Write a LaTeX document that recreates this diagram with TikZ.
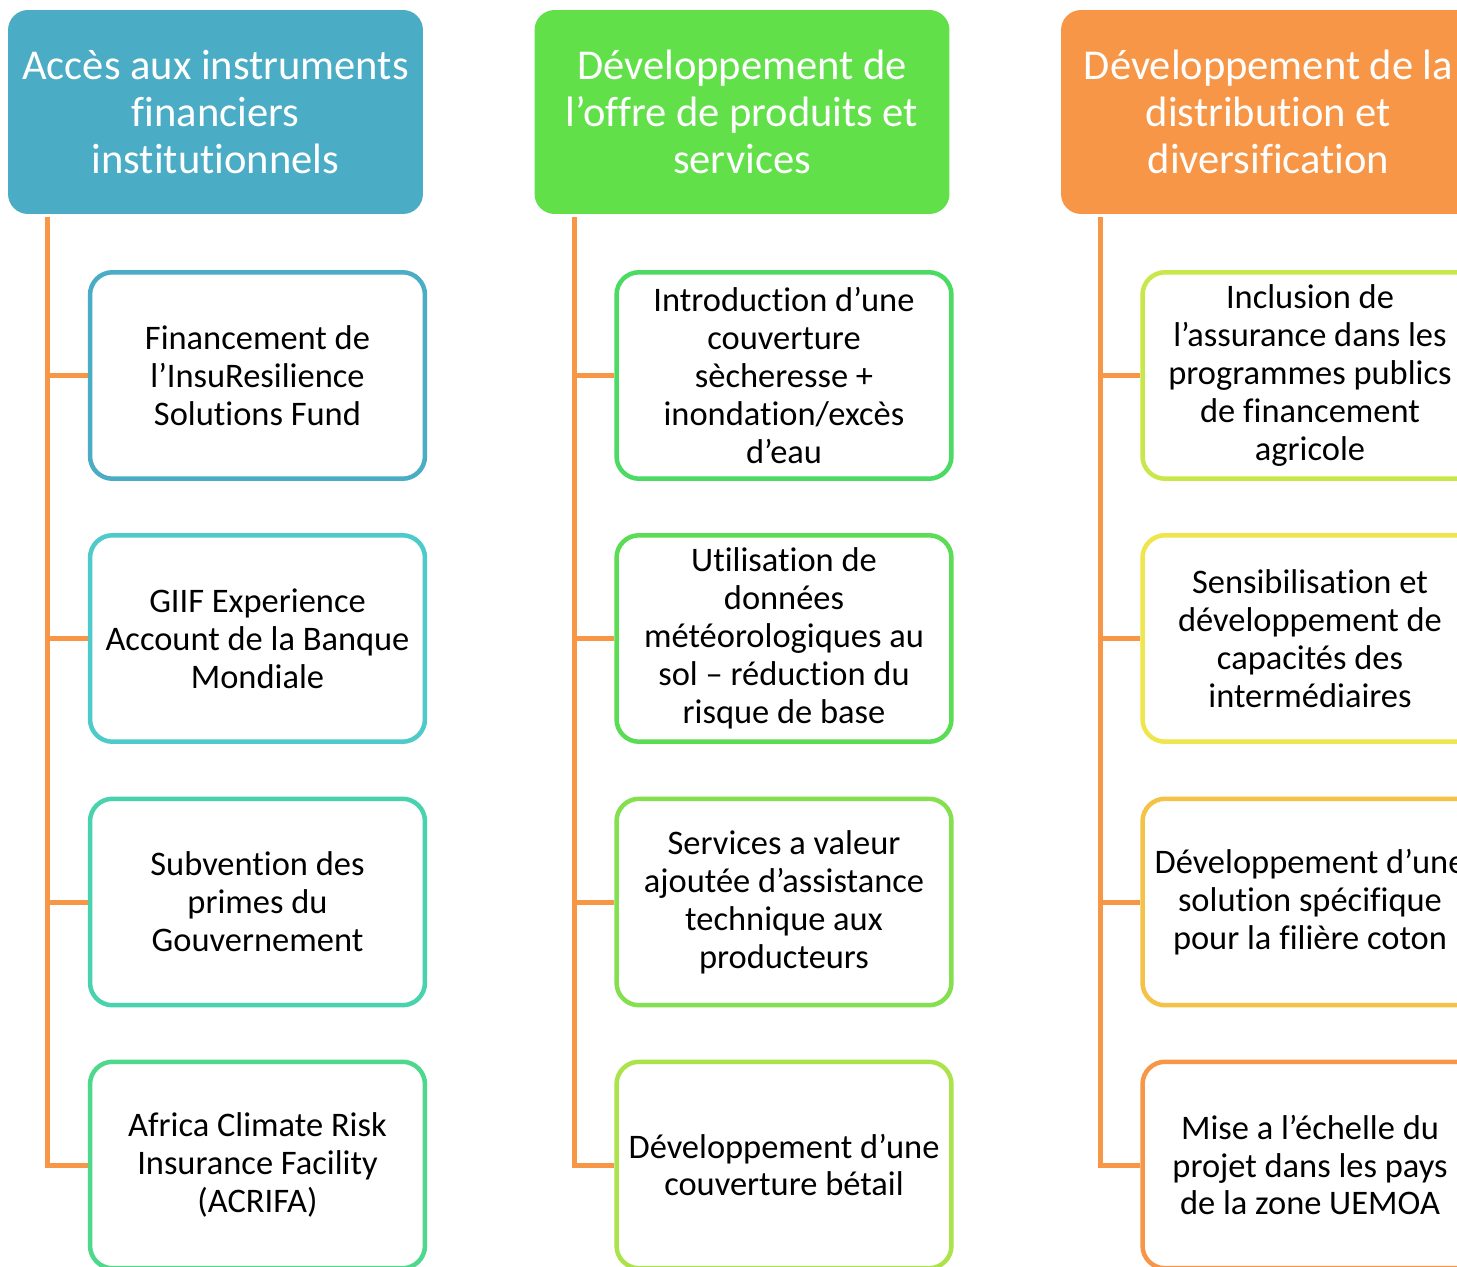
\documentclass[tikz,border=0pt]{standalone}
\usepackage{fontspec}
\setmainfont[Ligatures=NoCommon]{Carlito}
\usetikzlibrary{backgrounds}
\definecolor{hblue}{HTML}{4BACC6}
\definecolor{hgreen}{HTML}{62E04A}
\definecolor{horange}{HTML}{F79646}
\definecolor{linkc}{HTML}{F79646}
\definecolor{ca}{HTML}{4BACC6}
\definecolor{cb}{HTML}{4DCACA}
\definecolor{cc}{HTML}{48D2AE}
\definecolor{cd}{HTML}{4ED88C}
\definecolor{ce}{HTML}{4CDB62}
\definecolor{cf}{HTML}{5ADD55}
\definecolor{cg}{HTML}{84E04E}
\definecolor{ch}{HTML}{ACE34A}
\definecolor{ci}{HTML}{C8E84A}
\definecolor{cj}{HTML}{EEE64C}
\definecolor{ck}{HTML}{F4C246}
\definecolor{cl}{HTML}{F79646}
\begin{document}
\begin{tikzpicture}[x=0.02cm,y=-0.02cm,
  head/.style={fill=#1, rounded corners=0.4cm, minimum width=8.3cm, minimum height=4.08cm,
    text=white, align=center, font=\fontsize{24.2}{26.7}\selectfont, inner sep=0pt},
  item/.style={draw=#1, line width=0.09cm, rounded corners=0.45cm, minimum width=6.7cm,
    minimum height=4.13cm, align=center, font=\fontsize{19.6}{21.6}\selectfont,
    fill=white, inner sep=0pt},
  link/.style={draw=linkc, line width=0.1cm}]
\useasboundingbox (0,0) rectangle (1457,1267);
\clip (0,0) rectangle (1457,1267);

% headers
\node[head=hblue] (h1) at (215.5,112) {Accès aux instruments\\financiers\\institutionnels};
\node[head=hgreen] (h2) at (742,112) {Développement de\\l’offre de produits et\\services};
\node[head=horange] (h3) at (1268.5,112) {Développement de la\\distribution et\\diversification};

% column 1
\node[item=ca] (a1) at (257.5,375.5) {Financement de\\l’InsuResilience\\Solutions Fund};
\node[item=cb] (a2) at (257.5,638.5) {GIIF Experience\\Account de la Banque\\Mondiale};
\node[item=cc] (a3) at (257.5,902) {Subvention des\\primes du\\Gouvernement};
\node[item=cd] (a4) at (257.5,1165) {Africa Climate Risk\\Insurance Facility\\(ACRIFA)};

% column 2
\node[item=ce] (b1) at (784,375.5) {Introduction d’une\\couverture\\sècheresse +\\inondation/excès\\d’eau};
\node[item=cf] (b2) at (784,638.5) {Utilisation de\\données\\météorologiques au\\sol -- réduction du\\risque de base};
\node[item=cg] (b3) at (784,902) {Services a valeur\\ajoutée d’assistance\\technique aux\\producteurs};
\node[item=ch] (b4) at (784,1165) {Développement d’une\\couverture bétail};

% column 3
\node[item=ci] (c1) at (1310,375.5) {Inclusion de\\l’assurance dans les\\programmes publics\\de financement\\agricole};
\node[item=cj] (c2) at (1310,638.5) {Sensibilisation et\\développement de\\capacités des\\intermédiaires};
\node[item=ck] (c3) at (1310,902) {Développement d’une\\solution spécifique\\pour la filière coton};
\node[item=cl] (c4) at (1310,1165) {Mise a l’échelle du\\projet dans les pays\\de la zone UEMOA};

\coordinate (t1) at (47,217);
\coordinate (t2) at (574,217);
\coordinate (t3) at (1100,217);

\begin{scope}[on background layer]
\fill[white] (0,0) rectangle (1457,1267);
\draw[link] (t1) |- (a4.west);
\draw[link] (t1 |- a1.west) -- (a1.west);
\draw[link] (t1 |- a2.west) -- (a2.west);
\draw[link] (t1 |- a3.west) -- (a3.west);
\draw[link] (t2) |- (b4.west);
\draw[link] (t2 |- b1.west) -- (b1.west);
\draw[link] (t2 |- b2.west) -- (b2.west);
\draw[link] (t2 |- b3.west) -- (b3.west);
\draw[link] (t3) |- (c4.west);
\draw[link] (t3 |- c1.west) -- (c1.west);
\draw[link] (t3 |- c2.west) -- (c2.west);
\draw[link] (t3 |- c3.west) -- (c3.west);
\end{scope}
\end{tikzpicture}
\end{document}
